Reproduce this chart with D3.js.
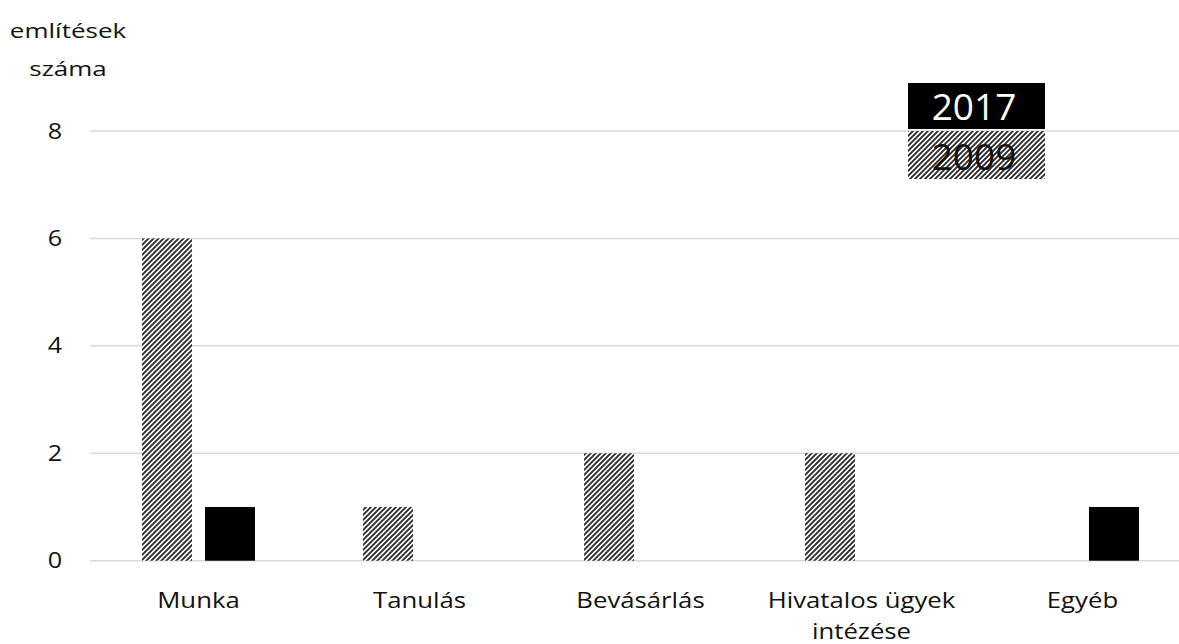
<!DOCTYPE html>
<html><head><meta charset="utf-8">
<script src="https://cdn.jsdelivr.net/npm/d3@7"></script>
<style>
html,body{margin:0;padding:0;background:#fff;overflow:hidden;}
text{font-family:"Open Sans",sans-serif;fill:#111;}
</style></head>
<body>
<svg id="c" width="1179" height="644"></svg>
<script>
const categories = ["Munka","Tanulás","Bevásárlás","Hivatalos ügyek intézése","Egyéb"];
const categoryLines = [["Munka"],["Tanulás"],["Bevásárlás"],["Hivatalos ügyek","intézése"],["Egyéb"]];
const series = ["2009","2017"];
const values2009 = [6,1,2,2,0];
const values2017 = [1,0,0,0,1];
const yTicks = [0,2,4,6,8];
const axisTitle = ["említések","száma"];
const legendOrder = ["2017","2009"];

const svg = d3.select("#c");
const defs = svg.append("defs");
const pat = defs.append("pattern").attr("id","hatch").attr("patternUnits","userSpaceOnUse")
  .attr("width",5).attr("height",5);
pat.append("rect").attr("width",5).attr("height",5).attr("fill","#fff");
pat.append("path").attr("d","M-1,1 l2,-2 M0,5 l5,-5 M4,6 l2,-2")
  .attr("stroke","#2a2a2a").attr("stroke-width",1.9);

const fillFor = {"2009":"url(#hatch)","2017":"#000"};

const x0 = d3.scaleBand().domain(categories).range([88,1193]).paddingInner(0.489).paddingOuter(0.2445);
const x1 = d3.scaleBand().domain(series).range([0,x0.bandwidth()]).paddingInner(0.206);
const y = d3.scaleLinear().domain([0,8]).range([560.7,131]);

// gridlines
svg.append("g").selectAll("line").data(yTicks).join("line")
  .attr("x1",90).attr("x2",1179)
  .attr("y1",d=>y(d)).attr("y2",d=>y(d))
  .attr("stroke","#d9d9d9").attr("stroke-width",1.5);

// y tick labels
svg.append("g").selectAll("text").data(yTicks).join("text")
  .attr("transform",d=>`translate(55,${y(d)}) scale(1.2,1)`)
  .attr("text-anchor","middle").attr("dy","0.36em")
  .style("font-size","21px").text(d=>d);

// axis title
svg.append("g").selectAll("text").data(axisTitle).join("text")
  .attr("transform",(d,i)=>`translate(68,${38+i*38}) scale(1.3,1)`)
  .attr("text-anchor","middle").style("font-size","20px").text(d=>d);

// bars
const rows = categories.map((c,i)=>({cat:c, vals:[{s:"2009",v:values2009[i]},{s:"2017",v:values2017[i]}]}));
const g = svg.append("g").selectAll("g").data(rows).join("g")
  .attr("transform",d=>`translate(${x0(d.cat)},0)`);
g.selectAll("rect").data(d=>d.vals.filter(e=>e.v>0)).join("rect")
  .attr("x",d=>x1(d.s)).attr("width",x1.bandwidth())
  .attr("y",d=>y(d.v)).attr("height",d=>y(0)-y(d.v))
  .attr("fill",d=>fillFor[d.s]);

// category labels
const cl = svg.append("g").selectAll("g").data(categories).join("g");
cl.each(function(c,i){
  const cx = x0(c)+x0.bandwidth()/2;
  d3.select(this).selectAll("text").data(categoryLines[i]).join("text")
    .attr("transform",(d,j)=>`translate(${cx},${608+j*31}) scale(1.17,1)`)
    .attr("text-anchor","middle").style("font-size","22px").text(d=>d);
});

// legend
const lg = svg.append("g").selectAll("g").data(legendOrder).join("g")
  .attr("transform",(d,i)=>`translate(908,${83+i*48})`);
lg.append("rect").attr("width",137).attr("height",(d,i)=>i===0?46:48)
  .attr("fill",d=>fillFor[d]);
lg.append("text").attr("x",66).attr("y",(d,i)=>i===0?37:39)
  .attr("text-anchor","middle").style("font-size","37px")
  .style("fill",d=>d==="2017"?"#fff":"#111").text(d=>d);
</script>
</body></html>
